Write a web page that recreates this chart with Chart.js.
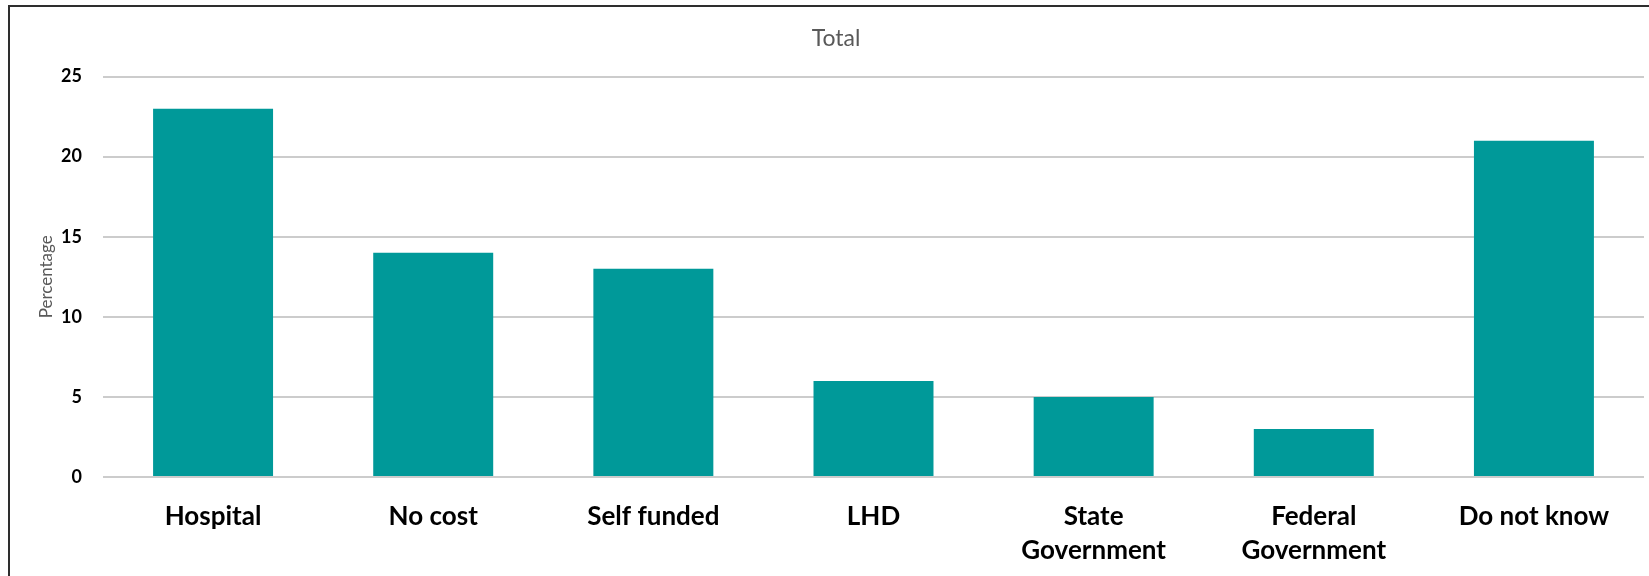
<!DOCTYPE html>
<html>
<head>
<meta charset="utf-8">
<title>Total</title>
<script src="https://cdn.jsdelivr.net/npm/chart.js@4.4.1/dist/chart.umd.min.js"></script>
<style>
    html, body { margin: 0; padding: 0; background: #fff; overflow: hidden; }
    #frame {
        position: absolute;
        left: 8px;
        top: 5px;
        width: 1700px;
        height: 700px;
        border-left: 2px solid #2e2e2e;
        border-top: 2px solid #2e2e2e;
    }
    #wrap {
        position: absolute;
        left: 10px;
        top: 7px;
        width: 1639px;
        height: 569px;
    }
</style>
</head>
<body>
<div id="frame"></div>
<div id="wrap"><canvas id="fundingChart"></canvas></div>
<script>
    const categories = [
        "Hospital",
        "No cost",
        "Self funded",
        "LHD",
        ["State", "Government"],
        ["Federal", "Government"],
        "Do not know",
    ];
    const percentages = [23, 14, 13, 6, 5, 3, 21];
    const yTicks = [0, 5, 10, 15, 20, 25];

    Chart.defaults.font.family = "Lato, 'Open Sans', sans-serif";

    const ctx = document.getElementById("fundingChart");

    new Chart(ctx, {
        type: "bar",
        data: {
            labels: categories,
            datasets: [
                {
                    label: "Total",
                    data: percentages,
                    backgroundColor: "#009999",
                    categoryPercentage: 1,
                    barPercentage: 0.545,
                },
            ],
        },
        options: {
            responsive: true,
            maintainAspectRatio: false,
            animation: false,
            // left padding plus a narrow y scale keeps the title centred on the frame
            layout: { padding: { left: 18, right: 5, top: 0, bottom: 0 } },
            plugins: {
                legend: { display: false },
                tooltip: { enabled: false },
                title: {
                    display: true,
                    text: "Total",
                    color: "#595959",
                    font: { size: 23, weight: "normal", lineHeight: 1.2 },
                    padding: { top: 18, bottom: 24 },
                },
            },
            scales: {
                x: {
                    grid: { display: false, drawTicks: false },
                    border: { display: false },
                    ticks: {
                        color: "#000",
                        font: { size: 26, weight: "bold", lineHeight: 1.31 },
                        padding: 23,
                        maxRotation: 0,
                        autoSkip: false,
                    },
                    afterFit: (scale) => {
                        scale.height = 99;
                    },
                },
                y: {
                    min: 0,
                    max: 25,
                    afterBuildTicks: (scale) => {
                        scale.ticks = yTicks.map((v) => ({ value: v }));
                    },
                    grid: {
                        color: "#cccccc",
                        lineWidth: 2,
                        drawTicks: false,
                    },
                    border: { display: false },
                    ticks: {
                        color: "#000",
                        font: { size: 18, weight: "bold" },
                        padding: 21,
                    },
                    title: {
                        display: true,
                        text: "Percentage",
                        color: "#595959",
                        font: { size: 17, weight: "normal" },
                        padding: { top: 8, bottom: 0 },
                    },
                    afterFit: (scale) => {
                        scale.width = 75;
                    },
                },
            },
        },
    });
</script>
</body>
</html>
